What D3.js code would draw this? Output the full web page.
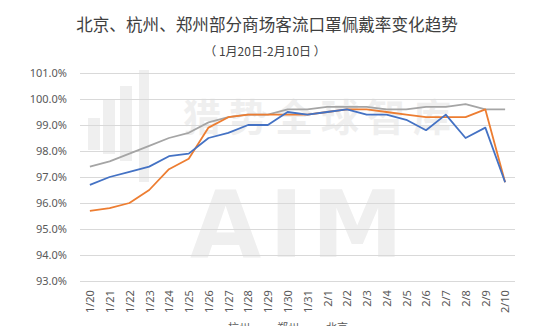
<!DOCTYPE html>
<html>
<head>
<meta charset="utf-8">
<script src="https://cdn.jsdelivr.net/npm/d3@7"></script>
<style>
  html, body { margin: 0; padding: 0; background: #fff; overflow: hidden; }
  svg { display: block; font-family: "Noto Sans CJK SC", "Noto Sans", sans-serif; }
</style>
</head>
<body>
<div id="chart"></div>
<script>
	var dates = ["1/20","1/21","1/22","1/23","1/24","1/25","1/26","1/27","1/28","1/29","1/30",
		"1/31","2/1","2/2","2/3","2/4","2/5","2/6","2/7","2/8","2/9","2/10"];
	var hangzhou = [96.7, 97.0, 97.2, 97.4, 97.8, 97.9, 98.5, 98.7, 99.0, 99.0, 99.5,
		99.4, 99.5, 99.6, 99.4, 99.4, 99.2, 98.8, 99.4, 98.5, 98.9, 96.8];
	var zhengzhou = [95.7, 95.8, 96.0, 96.5, 97.3, 97.7, 98.9, 99.3, 99.4, 99.4, 99.4,
		99.4, 99.5, 99.6, 99.6, 99.5, 99.4, 99.3, 99.3, 99.3, 99.6, 96.8];
	var beijing = [97.4, 97.6, 97.9, 98.2, 98.5, 98.7, 99.1, 99.3, 99.4, 99.4, 99.6,
		99.6, 99.7, 99.7, 99.7, 99.6, 99.6, 99.7, 99.7, 99.8, 99.6, 99.6];
	var yTicks = [93, 94, 95, 96, 97, 98, 99, 100, 101];
	var seriesNames = ["杭州", "郑州", "北京"];

	var W = 554, H = 326;
	var margin = {top: 73, left: 80, right: 39, bottom: 45};

	var series = [
		{name: seriesNames[0], values: hangzhou, color: "#4472C4"},
		{name: seriesNames[1], values: zhengzhou, color: "#ED7D31"},
		{name: seriesNames[2], values: beijing, color: "#A5A5A5"}
	];

	var svg = d3.select("#chart").append("svg")
		.attr("width", W).attr("height", H);

	// title
	svg.append("text")
		.attr("x", 267).attr("y", 31)
		.attr("text-anchor", "middle")
		.attr("font-size", 16.6)
		.attr("fill", "#404040")
		.text("北京、杭州、郑州部分商场客流口罩佩戴率变化趋势");
	svg.append("text")
		.attr("x", 265).attr("y", 56)
		.attr("text-anchor", "middle")
		.attr("font-size", 12)
		.attr("fill", "#404040")
		.text("（ 1月20日-2月10日 ）");

	var x = d3.scalePoint()
		.domain(dates)
		.range([margin.left, W - margin.right])
		.padding(0.5);

	var y = d3.scaleLinear()
		.domain([93, 101])
		.range([H - margin.bottom, margin.top]);

	// watermark
	var wm = svg.append("g").attr("fill", "#efefef");
	[[88, 118, 12, 32], [103, 100, 12, 54], [120, 86, 12, 75], [139, 70, 10, 112]].forEach(function(r){
		wm.append("rect").attr("x", r[0]).attr("y", r[1]).attr("width", r[2]).attr("height", r[3]);
	});
	wm.append("text").attr("x", 183).attr("y", 131)
		.attr("font-size", 38).attr("font-weight", "bold")
		.attr("letter-spacing", 8)
		.text("猎势全球智库");
	wm.append("text").attr("x", 190).attr("y", 257)
		.attr("font-size", 92).attr("font-weight", "bold")
		.attr("font-family", "DejaVu Sans, sans-serif")
		.attr("letter-spacing", 8)
		.text("AIM");

	// gridlines
	svg.append("g")
		.selectAll("line")
		.data(yTicks)
		.enter().append("line")
		.attr("x1", margin.left).attr("x2", W - margin.right)
		.attr("y1", function(d){ return Math.round(y(d)) + 0.5; })
		.attr("y2", function(d){ return Math.round(y(d)) + 0.5; })
		.attr("stroke", "#d9d9d9").attr("stroke-width", 1);

	// y axis
	var yAxis = svg.append("g")
		.attr("transform", "translate(" + (margin.left - 10) + ",0)")
		.call(d3.axisLeft(y).tickValues(yTicks).tickSize(0)
			.tickFormat(function(d){ return d.toFixed(1) + "%"; }));
	yAxis.select(".domain").remove();
	yAxis.selectAll("text")
		.attr("font-size", 11)
		.attr("fill", "#595959")
		.attr("font-family", "Noto Sans, sans-serif");

	// x axis
	var xAxis = svg.append("g")
		.attr("transform", "translate(0," + (H - margin.bottom + 6) + ")")
		.call(d3.axisBottom(x).tickSize(0));
	xAxis.select(".domain").remove();
	xAxis.selectAll("text")
		.attr("font-size", 11)
		.attr("fill", "#595959")
		.attr("font-family", "Noto Sans, sans-serif")
		.attr("transform", "rotate(-90)")
		.attr("text-anchor", "end")
		.attr("dx", "-0.1em")
		.attr("dy", "0.35em")
		.attr("y", 0)
		.attr("x", -2);

	// lines
	var line = d3.line()
		.x(function(d, i){ return x(dates[i]); })
		.y(function(d){ return y(d); });

	svg.append("g")
		.selectAll("path")
		.data(series.slice().reverse())
		.enter().append("path")
		.attr("d", function(s){ return line(s.values); })
		.attr("fill", "none")
		.attr("stroke", function(s){ return s.color; })
		.attr("stroke-width", 1.8)
		.attr("stroke-linejoin", "round");

	// legend (cut off by the bottom edge, as in the source image)
	var legend = svg.append("g");
	var lx = [210, 259, 308];
	series.forEach(function(s, i){
		legend.append("line")
			.attr("x1", lx[i]).attr("x2", lx[i] + 14)
			.attr("y1", 328).attr("y2", 328)
			.attr("stroke", s.color).attr("stroke-width", 2);
		legend.append("text")
			.attr("x", lx[i] + 18).attr("y", 332)
			.attr("font-size", 11)
			.attr("fill", "#595959")
			.text(s.name);
	});
</script>
</body>
</html>
